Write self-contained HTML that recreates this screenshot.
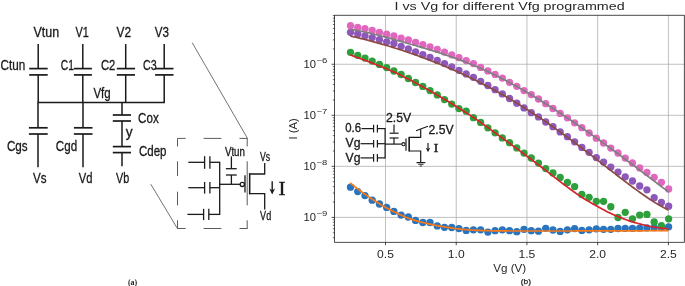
<!DOCTYPE html>
<html><head><meta charset="utf-8"><title>figure</title>
<style>html,body{margin:0;padding:0;background:#fff;}svg{display:block;will-change:transform;}text{white-space:pre;}</style>
</head><body>
<svg width="685" height="286" viewBox="0 0 685 286">
<rect width="685" height="286" fill="#ffffff"/>
<line x1="38.20" y1="44.10" x2="38.20" y2="68.60" stroke="#1a1a1a" stroke-width="1.5" />
<line x1="29.20" y1="68.60" x2="47.70" y2="68.60" stroke="#1a1a1a" stroke-width="1.7" />
<line x1="29.20" y1="74.90" x2="47.70" y2="74.90" stroke="#1a1a1a" stroke-width="1.7" />
<line x1="38.20" y1="74.90" x2="38.20" y2="102.50" stroke="#1a1a1a" stroke-width="1.5" />
<line x1="82.80" y1="44.10" x2="82.80" y2="68.60" stroke="#1a1a1a" stroke-width="1.5" />
<line x1="73.90" y1="68.60" x2="91.90" y2="68.60" stroke="#1a1a1a" stroke-width="1.7" />
<line x1="73.90" y1="74.90" x2="91.90" y2="74.90" stroke="#1a1a1a" stroke-width="1.7" />
<line x1="82.80" y1="74.90" x2="82.80" y2="102.50" stroke="#1a1a1a" stroke-width="1.5" />
<line x1="125.70" y1="44.10" x2="125.70" y2="68.60" stroke="#1a1a1a" stroke-width="1.5" />
<line x1="116.80" y1="68.60" x2="135.00" y2="68.60" stroke="#1a1a1a" stroke-width="1.7" />
<line x1="116.80" y1="74.90" x2="135.00" y2="74.90" stroke="#1a1a1a" stroke-width="1.7" />
<line x1="125.70" y1="74.90" x2="125.70" y2="102.50" stroke="#1a1a1a" stroke-width="1.5" />
<line x1="164.20" y1="44.10" x2="164.20" y2="68.60" stroke="#1a1a1a" stroke-width="1.5" />
<line x1="155.10" y1="68.60" x2="173.50" y2="68.60" stroke="#1a1a1a" stroke-width="1.7" />
<line x1="155.10" y1="74.90" x2="173.50" y2="74.90" stroke="#1a1a1a" stroke-width="1.7" />
<line x1="164.20" y1="74.90" x2="164.20" y2="102.50" stroke="#1a1a1a" stroke-width="1.5" />
<line x1="37.45" y1="102.50" x2="164.95" y2="102.50" stroke="#1a1a1a" stroke-width="1.5" />
<line x1="38.00" y1="102.50" x2="38.00" y2="127.80" stroke="#1a1a1a" stroke-width="1.5" />
<line x1="28.90" y1="127.80" x2="47.70" y2="127.80" stroke="#1a1a1a" stroke-width="1.7" />
<line x1="28.90" y1="134.00" x2="47.70" y2="134.00" stroke="#1a1a1a" stroke-width="1.7" />
<line x1="38.00" y1="134.00" x2="38.00" y2="167.20" stroke="#1a1a1a" stroke-width="1.5" />
<line x1="83.00" y1="102.50" x2="83.00" y2="127.80" stroke="#1a1a1a" stroke-width="1.5" />
<line x1="73.90" y1="127.80" x2="92.50" y2="127.80" stroke="#1a1a1a" stroke-width="1.7" />
<line x1="73.90" y1="134.00" x2="92.50" y2="134.00" stroke="#1a1a1a" stroke-width="1.7" />
<line x1="83.00" y1="134.00" x2="83.00" y2="167.20" stroke="#1a1a1a" stroke-width="1.5" />
<line x1="122.00" y1="102.50" x2="122.00" y2="115.00" stroke="#1a1a1a" stroke-width="1.5" />
<line x1="112.80" y1="115.00" x2="131.00" y2="115.00" stroke="#1a1a1a" stroke-width="1.7" />
<line x1="112.80" y1="121.00" x2="131.00" y2="121.00" stroke="#1a1a1a" stroke-width="1.7" />
<line x1="122.00" y1="121.00" x2="122.00" y2="146.60" stroke="#1a1a1a" stroke-width="1.5" />
<line x1="112.80" y1="146.60" x2="131.00" y2="146.60" stroke="#1a1a1a" stroke-width="1.7" />
<line x1="112.80" y1="152.60" x2="131.00" y2="152.60" stroke="#1a1a1a" stroke-width="1.7" />
<line x1="122.00" y1="152.60" x2="122.00" y2="166.30" stroke="#1a1a1a" stroke-width="1.5" />
<text x="33.40" y="37.40" font-family="Liberation Sans, sans-serif" font-size="14" font-weight="normal" fill="#1a1a1a" textLength="25.70" lengthAdjust="spacingAndGlyphs"  stroke="#1a1a1a" stroke-width="0.3">Vtun</text>
<text x="75.40" y="37.40" font-family="Liberation Sans, sans-serif" font-size="14" font-weight="normal" fill="#1a1a1a" textLength="13.30" lengthAdjust="spacingAndGlyphs"  stroke="#1a1a1a" stroke-width="0.3">V1</text>
<text x="116.50" y="37.40" font-family="Liberation Sans, sans-serif" font-size="14" font-weight="normal" fill="#1a1a1a" textLength="14.50" lengthAdjust="spacingAndGlyphs"  stroke="#1a1a1a" stroke-width="0.3">V2</text>
<text x="154.80" y="37.40" font-family="Liberation Sans, sans-serif" font-size="14" font-weight="normal" fill="#1a1a1a" textLength="14.20" lengthAdjust="spacingAndGlyphs"  stroke="#1a1a1a" stroke-width="0.3">V3</text>
<text x="0.50" y="69.60" font-family="Liberation Sans, sans-serif" font-size="14" font-weight="normal" fill="#1a1a1a" textLength="24.70" lengthAdjust="spacingAndGlyphs"  stroke="#1a1a1a" stroke-width="0.3">Ctun</text>
<text x="60.80" y="69.60" font-family="Liberation Sans, sans-serif" font-size="14" font-weight="normal" fill="#1a1a1a" textLength="13.10" lengthAdjust="spacingAndGlyphs"  stroke="#1a1a1a" stroke-width="0.3">C1</text>
<text x="100.90" y="69.60" font-family="Liberation Sans, sans-serif" font-size="14" font-weight="normal" fill="#1a1a1a" textLength="14.40" lengthAdjust="spacingAndGlyphs"  stroke="#1a1a1a" stroke-width="0.3">C2</text>
<text x="143.00" y="69.60" font-family="Liberation Sans, sans-serif" font-size="14" font-weight="normal" fill="#1a1a1a" textLength="13.70" lengthAdjust="spacingAndGlyphs"  stroke="#1a1a1a" stroke-width="0.3">C3</text>
<text x="93.40" y="98.30" font-family="Liberation Sans, sans-serif" font-size="14" font-weight="normal" fill="#1a1a1a" textLength="17.30" lengthAdjust="spacingAndGlyphs"  stroke="#1a1a1a" stroke-width="0.3">Vfg</text>
<text x="138.10" y="123.20" font-family="Liberation Sans, sans-serif" font-size="14" font-weight="normal" fill="#1a1a1a" textLength="20.70" lengthAdjust="spacingAndGlyphs"  stroke="#1a1a1a" stroke-width="0.3">Cox</text>
<text x="125.70" y="136.60" font-family="Liberation Sans, sans-serif" font-size="14" font-weight="normal" fill="#1a1a1a" textLength="6.90" lengthAdjust="spacingAndGlyphs"  stroke="#1a1a1a" stroke-width="0.3">y</text>
<text x="138.90" y="155.70" font-family="Liberation Sans, sans-serif" font-size="14" font-weight="normal" fill="#1a1a1a" textLength="27.60" lengthAdjust="spacingAndGlyphs"  stroke="#1a1a1a" stroke-width="0.3">Cdep</text>
<text x="6.90" y="151.40" font-family="Liberation Sans, sans-serif" font-size="14" font-weight="normal" fill="#1a1a1a" textLength="20.80" lengthAdjust="spacingAndGlyphs"  stroke="#1a1a1a" stroke-width="0.3">Cgs</text>
<text x="55.80" y="151.40" font-family="Liberation Sans, sans-serif" font-size="14" font-weight="normal" fill="#1a1a1a" textLength="21.30" lengthAdjust="spacingAndGlyphs"  stroke="#1a1a1a" stroke-width="0.3">Cgd</text>
<text x="33.00" y="183.20" font-family="Liberation Sans, sans-serif" font-size="14" font-weight="normal" fill="#1a1a1a" textLength="13.50" lengthAdjust="spacingAndGlyphs"  stroke="#1a1a1a" stroke-width="0.3">Vs</text>
<text x="78.80" y="183.20" font-family="Liberation Sans, sans-serif" font-size="14" font-weight="normal" fill="#1a1a1a" textLength="13.70" lengthAdjust="spacingAndGlyphs"  stroke="#1a1a1a" stroke-width="0.3">Vd</text>
<text x="116.10" y="183.20" font-family="Liberation Sans, sans-serif" font-size="14" font-weight="normal" fill="#1a1a1a" textLength="13.20" lengthAdjust="spacingAndGlyphs"  stroke="#1a1a1a" stroke-width="0.3">Vb</text>
<line x1="192.20" y1="42.70" x2="247.50" y2="138.40" stroke="#5a5a5a" stroke-width="0.85" />
<line x1="150.80" y1="184.20" x2="177.40" y2="228.50" stroke="#5a5a5a" stroke-width="0.85" />
<line x1="177.50" y1="138.40" x2="185.70" y2="138.40" stroke="#484848" stroke-width="0.9" />
<line x1="203.60" y1="138.40" x2="221.40" y2="138.40" stroke="#484848" stroke-width="0.9" />
<line x1="239.50" y1="138.40" x2="247.50" y2="138.40" stroke="#484848" stroke-width="0.9" />
<line x1="177.50" y1="228.50" x2="185.70" y2="228.50" stroke="#484848" stroke-width="0.9" />
<line x1="203.60" y1="228.50" x2="221.40" y2="228.50" stroke="#484848" stroke-width="0.9" />
<line x1="239.50" y1="228.50" x2="247.50" y2="228.50" stroke="#484848" stroke-width="0.9" />
<line x1="177.50" y1="138.40" x2="177.50" y2="146.40" stroke="#484848" stroke-width="0.9" />
<line x1="177.50" y1="161.30" x2="177.50" y2="176.00" stroke="#484848" stroke-width="0.9" />
<line x1="177.50" y1="191.70" x2="177.50" y2="205.30" stroke="#484848" stroke-width="0.9" />
<line x1="177.50" y1="220.30" x2="177.50" y2="228.50" stroke="#484848" stroke-width="0.9" />
<line x1="247.20" y1="138.40" x2="247.20" y2="146.40" stroke="#484848" stroke-width="0.9" />
<line x1="247.20" y1="161.30" x2="247.20" y2="205.30" stroke="#484848" stroke-width="0.9" />
<line x1="247.20" y1="220.30" x2="247.20" y2="228.50" stroke="#484848" stroke-width="0.9" />
<line x1="188.30" y1="162.30" x2="204.60" y2="162.30" stroke="#1a1a1a" stroke-width="1.3" />
<line x1="204.60" y1="156.20" x2="204.60" y2="168.80" stroke="#1a1a1a" stroke-width="1.3" />
<line x1="209.90" y1="156.20" x2="209.90" y2="168.80" stroke="#1a1a1a" stroke-width="1.3" />
<line x1="209.90" y1="162.30" x2="219.70" y2="162.30" stroke="#1a1a1a" stroke-width="1.3" />
<line x1="188.30" y1="187.70" x2="204.60" y2="187.70" stroke="#1a1a1a" stroke-width="1.3" />
<line x1="204.60" y1="182.00" x2="204.60" y2="193.60" stroke="#1a1a1a" stroke-width="1.3" />
<line x1="209.90" y1="182.00" x2="209.90" y2="193.60" stroke="#1a1a1a" stroke-width="1.3" />
<line x1="209.90" y1="187.70" x2="219.70" y2="187.70" stroke="#1a1a1a" stroke-width="1.3" />
<line x1="187.40" y1="214.40" x2="203.60" y2="214.40" stroke="#1a1a1a" stroke-width="1.3" />
<line x1="203.60" y1="208.80" x2="203.60" y2="220.10" stroke="#1a1a1a" stroke-width="1.3" />
<line x1="208.80" y1="208.80" x2="208.80" y2="220.10" stroke="#1a1a1a" stroke-width="1.3" />
<line x1="208.80" y1="214.40" x2="219.70" y2="214.40" stroke="#1a1a1a" stroke-width="1.3" />
<line x1="219.70" y1="161.65" x2="219.70" y2="215.05" stroke="#1a1a1a" stroke-width="1.3" />
<line x1="231.40" y1="156.40" x2="231.40" y2="168.30" stroke="#1a1a1a" stroke-width="1.3" />
<line x1="225.90" y1="168.70" x2="236.70" y2="168.70" stroke="#1a1a1a" stroke-width="1.3" />
<line x1="225.90" y1="175.00" x2="236.70" y2="175.00" stroke="#1a1a1a" stroke-width="1.3" />
<line x1="231.40" y1="175.00" x2="231.40" y2="184.30" stroke="#1a1a1a" stroke-width="1.3" />
<line x1="219.70" y1="184.30" x2="240.20" y2="184.30" stroke="#1a1a1a" stroke-width="1.3" />
<circle cx="242.3" cy="184.4" r="2.1" fill="#fff" stroke="#1a1a1a" stroke-width="1.3"/>
<line x1="245.00" y1="175.20" x2="245.00" y2="192.60" stroke="#1a1a1a" stroke-width="1.3" />
<polyline points="264.7,163.1 264.7,174.0 249.6,174.0 249.6,193.6 264.7,193.6 264.7,209.4" fill="none" stroke="#1a1a1a" stroke-width="1.3" stroke-linejoin="miter"/>
<line x1="249.60" y1="173.35" x2="249.60" y2="194.25" stroke="#1a1a1a" stroke-width="1.3" />
<text x="224.90" y="155.60" font-family="Liberation Sans, sans-serif" font-size="12" font-weight="normal" fill="#1a1a1a" textLength="20.10" lengthAdjust="spacingAndGlyphs"  stroke="#1a1a1a" stroke-width="0.3">Vtun</text>
<text x="259.90" y="160.60" font-family="Liberation Sans, sans-serif" font-size="12" font-weight="normal" fill="#1a1a1a" textLength="10.20" lengthAdjust="spacingAndGlyphs"  stroke="#1a1a1a" stroke-width="0.3">Vs</text>
<text x="260.10" y="219.80" font-family="Liberation Sans, sans-serif" font-size="12" font-weight="normal" fill="#1a1a1a" textLength="11.10" lengthAdjust="spacingAndGlyphs"  stroke="#1a1a1a" stroke-width="0.3">Vd</text>
<line x1="272.20" y1="181.20" x2="272.20" y2="191.50" stroke="#1a1a1a" stroke-width="1.4" />
<path d="M269.3,188.6 L272.2,194.6 L275.1,188.6 L272.2,190.3 Z" fill="#1a1a1a"/>
<text x="278.50" y="194.80" font-family="Liberation Serif, sans-serif" font-size="19.5" font-weight="normal" fill="#1a1a1a" textLength="7.00" lengthAdjust="spacingAndGlyphs" stroke="#1a1a1a" stroke-width="0.35">I</text>
<text x="132.6" y="284.5" font-family="Liberation Serif, serif" font-size="7.9" font-weight="bold" fill="#1a1a1a" text-anchor="middle">(a)</text>
<rect x="334.6" y="15.25" width="349.69999999999993" height="227.05" fill="#fff"/>
<line x1="385.50" y1="15.25" x2="385.50" y2="242.30" stroke="#b0b0b0" stroke-width="0.8" />
<line x1="456.23" y1="15.25" x2="456.23" y2="242.30" stroke="#b0b0b0" stroke-width="0.8" />
<line x1="526.95" y1="15.25" x2="526.95" y2="242.30" stroke="#b0b0b0" stroke-width="0.8" />
<line x1="597.67" y1="15.25" x2="597.67" y2="242.30" stroke="#b0b0b0" stroke-width="0.8" />
<line x1="668.40" y1="15.25" x2="668.40" y2="242.30" stroke="#b0b0b0" stroke-width="0.8" />
<line x1="334.60" y1="217.40" x2="684.30" y2="217.40" stroke="#b0b0b0" stroke-width="0.8" />
<line x1="334.60" y1="166.35" x2="684.30" y2="166.35" stroke="#b0b0b0" stroke-width="0.8" />
<line x1="334.60" y1="115.30" x2="684.30" y2="115.30" stroke="#b0b0b0" stroke-width="0.8" />
<line x1="334.60" y1="64.25" x2="684.30" y2="64.25" stroke="#b0b0b0" stroke-width="0.8" />
<clipPath id="axclip"><rect x="334.6" y="15.25" width="349.69999999999993" height="227.05"/></clipPath>
<g clip-path="url(#axclip)">
<circle cx="350.50" cy="187.20" r="3.65" fill="#2874be"/>
<circle cx="357.73" cy="191.60" r="3.65" fill="#2874be"/>
<circle cx="364.96" cy="195.60" r="3.65" fill="#2874be"/>
<circle cx="372.19" cy="200.20" r="3.65" fill="#2874be"/>
<circle cx="379.42" cy="204.00" r="3.65" fill="#2874be"/>
<circle cx="386.65" cy="207.40" r="3.65" fill="#2874be"/>
<circle cx="393.88" cy="211.40" r="3.65" fill="#2874be"/>
<circle cx="401.11" cy="215.10" r="3.65" fill="#2874be"/>
<circle cx="408.34" cy="217.00" r="3.65" fill="#2874be"/>
<circle cx="415.57" cy="220.40" r="3.65" fill="#2874be"/>
<circle cx="422.80" cy="222.50" r="3.65" fill="#2874be"/>
<circle cx="430.03" cy="222.50" r="3.65" fill="#2874be"/>
<circle cx="437.26" cy="225.90" r="3.65" fill="#2874be"/>
<circle cx="444.49" cy="227.30" r="3.65" fill="#2874be"/>
<circle cx="451.72" cy="227.50" r="3.65" fill="#2874be"/>
<circle cx="458.95" cy="228.60" r="3.65" fill="#2874be"/>
<circle cx="466.18" cy="230.40" r="3.65" fill="#2874be"/>
<circle cx="473.41" cy="229.80" r="3.65" fill="#2874be"/>
<circle cx="480.64" cy="229.80" r="3.65" fill="#2874be"/>
<circle cx="487.87" cy="232.10" r="3.65" fill="#2874be"/>
<circle cx="495.10" cy="230.70" r="3.65" fill="#2874be"/>
<circle cx="502.33" cy="229.80" r="3.65" fill="#2874be"/>
<circle cx="509.56" cy="230.70" r="3.65" fill="#2874be"/>
<circle cx="516.79" cy="231.70" r="3.65" fill="#2874be"/>
<circle cx="524.02" cy="229.30" r="3.65" fill="#2874be"/>
<circle cx="531.25" cy="230.70" r="3.65" fill="#2874be"/>
<circle cx="538.48" cy="231.20" r="3.65" fill="#2874be"/>
<circle cx="545.71" cy="228.30" r="3.65" fill="#2874be"/>
<circle cx="552.94" cy="230.00" r="3.65" fill="#2874be"/>
<circle cx="560.17" cy="231.40" r="3.65" fill="#2874be"/>
<circle cx="567.40" cy="229.80" r="3.65" fill="#2874be"/>
<circle cx="574.63" cy="228.60" r="3.65" fill="#2874be"/>
<circle cx="581.86" cy="230.40" r="3.65" fill="#2874be"/>
<circle cx="589.09" cy="229.80" r="3.65" fill="#2874be"/>
<circle cx="596.32" cy="228.80" r="3.65" fill="#2874be"/>
<circle cx="603.55" cy="229.30" r="3.65" fill="#2874be"/>
<circle cx="610.78" cy="229.30" r="3.65" fill="#2874be"/>
<circle cx="618.01" cy="228.50" r="3.65" fill="#2874be"/>
<circle cx="625.24" cy="228.30" r="3.65" fill="#2874be"/>
<circle cx="632.47" cy="228.30" r="3.65" fill="#2874be"/>
<circle cx="639.70" cy="228.10" r="3.65" fill="#2874be"/>
<circle cx="646.93" cy="227.90" r="3.65" fill="#2874be"/>
<circle cx="654.16" cy="227.70" r="3.65" fill="#2874be"/>
<circle cx="661.39" cy="227.50" r="3.65" fill="#2874be"/>
<circle cx="668.62" cy="226.80" r="3.65" fill="#2874be"/>
<path d="M350.30,183.00 L351.90,184.31 L353.50,185.60 L355.10,186.87 L356.70,188.11 L358.29,189.34 L359.89,190.55 L361.49,191.74 L363.09,192.90 L364.69,194.05 L366.29,195.18 L367.89,196.29 L369.49,197.38 L371.09,198.46 L372.69,199.51 L374.28,200.55 L375.88,201.56 L377.48,202.56 L379.08,203.54 L380.68,204.51 L382.28,205.45 L383.88,206.36 L385.48,207.26 L387.08,208.13 L388.68,208.98 L390.27,209.81 L391.87,210.63 L393.47,211.42 L395.07,212.20 L396.67,212.96 L398.27,213.73 L399.87,214.48 L401.47,215.23 L403.07,215.95 L404.67,216.66 L406.26,217.34 L407.86,217.98 L409.46,218.59 L411.06,219.15 L412.66,219.68 L414.26,220.17 L415.86,220.64 L417.46,221.09 L419.06,221.52 L420.66,221.93 L422.25,222.33 L423.85,222.72 L425.45,223.09 L427.05,223.47 L428.65,223.83 L430.25,224.19 L431.85,224.55 L433.45,224.90 L435.05,225.23 L436.65,225.56 L438.24,225.87 L439.84,226.17 L441.44,226.45 L443.04,226.71 L444.64,226.96 L446.24,227.20 L447.84,227.45 L449.44,227.69 L451.04,227.92 L452.64,228.14 L454.23,228.36 L455.83,228.56 L457.43,228.76 L459.03,228.95 L460.63,229.12 L462.23,229.28 L463.83,229.43 L465.43,229.56 L467.03,229.68 L468.63,229.79 L470.22,229.90 L471.82,230.01 L473.42,230.11 L475.02,230.21 L476.62,230.30 L478.22,230.39 L479.82,230.46 L481.42,230.53 L483.02,230.59 L484.62,230.64 L486.21,230.68 L487.81,230.71 L489.41,230.74 L491.01,230.77 L492.61,230.80 L494.21,230.82 L495.81,230.85 L497.41,230.87 L499.01,230.89 L500.61,230.91 L502.20,230.93 L503.80,230.94 L505.40,230.96 L507.00,230.97 L508.60,230.98 L510.20,230.99 L511.80,231.00 L513.40,231.00 L515.00,231.00 L516.60,231.00 L518.19,231.00 L519.79,231.00 L521.39,231.00 L522.99,231.00 L524.59,231.00 L526.19,231.00 L527.79,231.00 L529.39,231.00 L530.99,231.00 L532.59,231.00 L534.18,231.00 L535.78,231.00 L537.38,231.00 L538.98,231.00 L540.58,230.99 L542.18,230.99 L543.78,230.99 L545.38,230.99 L546.98,230.99 L548.58,230.99 L550.17,230.99 L551.77,230.99 L553.37,230.99 L554.97,230.99 L556.57,230.99 L558.17,230.99 L559.77,230.99 L561.37,230.98 L562.97,230.98 L564.57,230.98 L566.16,230.98 L567.76,230.98 L569.36,230.98 L570.96,230.98 L572.56,230.98 L574.16,230.97 L575.76,230.97 L577.36,230.97 L578.96,230.97 L580.56,230.97 L582.15,230.97 L583.75,230.97 L585.35,230.96 L586.95,230.96 L588.55,230.96 L590.15,230.96 L591.75,230.96 L593.35,230.96 L594.95,230.96 L596.55,230.95 L598.14,230.95 L599.74,230.95 L601.34,230.95 L602.94,230.95 L604.54,230.94 L606.14,230.94 L607.74,230.94 L609.34,230.93 L610.94,230.93 L612.54,230.92 L614.13,230.92 L615.73,230.91 L617.33,230.91 L618.93,230.90 L620.53,230.89 L622.13,230.89 L623.73,230.88 L625.33,230.87 L626.93,230.87 L628.53,230.86 L630.12,230.85 L631.72,230.84 L633.32,230.83 L634.92,230.82 L636.52,230.81 L638.12,230.80 L639.72,230.79 L641.32,230.79 L642.92,230.78 L644.52,230.76 L646.11,230.75 L647.71,230.74 L649.31,230.73 L650.91,230.72 L652.51,230.71 L654.11,230.70 L655.71,230.69 L657.31,230.68 L658.91,230.67 L660.51,230.66 L662.10,230.65 L663.70,230.63 L665.30,230.62 L666.90,230.61 L668.50,230.60" fill="none" stroke="#f77818" stroke-width="1.7" stroke-linejoin="round" stroke-linecap="butt"/>
<circle cx="350.50" cy="52.30" r="3.65" fill="#2da03c"/>
<circle cx="357.73" cy="55.30" r="3.65" fill="#2da03c"/>
<circle cx="364.96" cy="58.10" r="3.65" fill="#2da03c"/>
<circle cx="372.19" cy="61.10" r="3.65" fill="#2da03c"/>
<circle cx="379.42" cy="64.40" r="3.65" fill="#2da03c"/>
<circle cx="386.65" cy="67.60" r="3.65" fill="#2da03c"/>
<circle cx="393.88" cy="71.00" r="3.65" fill="#2da03c"/>
<circle cx="401.11" cy="74.50" r="3.65" fill="#2da03c"/>
<circle cx="408.34" cy="78.50" r="3.65" fill="#2da03c"/>
<circle cx="415.57" cy="82.50" r="3.65" fill="#2da03c"/>
<circle cx="422.80" cy="86.40" r="3.65" fill="#2da03c"/>
<circle cx="430.03" cy="90.60" r="3.65" fill="#2da03c"/>
<circle cx="437.26" cy="94.95" r="3.65" fill="#2da03c"/>
<circle cx="444.49" cy="99.60" r="3.65" fill="#2da03c"/>
<circle cx="451.72" cy="104.10" r="3.65" fill="#2da03c"/>
<circle cx="458.95" cy="108.60" r="3.65" fill="#2da03c"/>
<circle cx="466.18" cy="111.20" r="3.65" fill="#2da03c"/>
<circle cx="473.41" cy="117.65" r="3.65" fill="#2da03c"/>
<circle cx="480.64" cy="122.40" r="3.65" fill="#2da03c"/>
<circle cx="487.87" cy="127.80" r="3.65" fill="#2da03c"/>
<circle cx="495.10" cy="132.80" r="3.65" fill="#2da03c"/>
<circle cx="502.33" cy="137.90" r="3.65" fill="#2da03c"/>
<circle cx="509.56" cy="142.70" r="3.65" fill="#2da03c"/>
<circle cx="516.79" cy="147.90" r="3.65" fill="#2da03c"/>
<circle cx="524.02" cy="153.10" r="3.65" fill="#2da03c"/>
<circle cx="531.25" cy="158.00" r="3.65" fill="#2da03c"/>
<circle cx="538.48" cy="163.10" r="3.65" fill="#2da03c"/>
<circle cx="545.71" cy="168.55" r="3.65" fill="#2da03c"/>
<circle cx="552.94" cy="173.00" r="3.65" fill="#2da03c"/>
<circle cx="560.17" cy="177.50" r="3.65" fill="#2da03c"/>
<circle cx="567.40" cy="182.40" r="3.65" fill="#2da03c"/>
<circle cx="574.63" cy="186.60" r="3.65" fill="#2da03c"/>
<circle cx="581.86" cy="194.40" r="3.65" fill="#2da03c"/>
<circle cx="589.09" cy="197.30" r="3.65" fill="#2da03c"/>
<circle cx="596.32" cy="201.30" r="3.65" fill="#2da03c"/>
<circle cx="603.55" cy="201.30" r="3.65" fill="#2da03c"/>
<circle cx="610.78" cy="206.75" r="3.65" fill="#2da03c"/>
<circle cx="618.01" cy="217.50" r="3.65" fill="#2da03c"/>
<circle cx="625.24" cy="212.30" r="3.65" fill="#2da03c"/>
<circle cx="632.47" cy="218.80" r="3.65" fill="#2da03c"/>
<circle cx="639.70" cy="215.10" r="3.65" fill="#2da03c"/>
<circle cx="646.93" cy="214.40" r="3.65" fill="#2da03c"/>
<circle cx="654.16" cy="221.90" r="3.65" fill="#2da03c"/>
<circle cx="661.39" cy="225.60" r="3.65" fill="#2da03c"/>
<circle cx="668.62" cy="218.80" r="3.65" fill="#2da03c"/>
<path d="M350.30,55.00 L351.90,55.56 L353.50,56.12 L355.10,56.68 L356.70,57.25 L358.29,57.83 L359.89,58.41 L361.49,59.00 L363.09,59.59 L364.69,60.19 L366.29,60.80 L367.89,61.40 L369.49,62.02 L371.09,62.64 L372.69,63.26 L374.28,63.89 L375.88,64.52 L377.48,65.15 L379.08,65.79 L380.68,66.43 L382.28,67.07 L383.88,67.73 L385.48,68.39 L387.08,69.06 L388.68,69.74 L390.27,70.43 L391.87,71.13 L393.47,71.85 L395.07,72.57 L396.67,73.31 L398.27,74.06 L399.87,74.83 L401.47,75.61 L403.07,76.40 L404.67,77.20 L406.26,78.01 L407.86,78.83 L409.46,79.66 L411.06,80.50 L412.66,81.35 L414.26,82.21 L415.86,83.07 L417.46,83.94 L419.06,84.82 L420.66,85.70 L422.25,86.59 L423.85,87.49 L425.45,88.38 L427.05,89.28 L428.65,90.19 L430.25,91.10 L431.85,92.00 L433.45,92.91 L435.05,93.83 L436.65,94.74 L438.24,95.66 L439.84,96.59 L441.44,97.52 L443.04,98.46 L444.64,99.40 L446.24,100.35 L447.84,101.30 L449.44,102.27 L451.04,103.23 L452.64,104.21 L454.23,105.19 L455.83,106.17 L457.43,107.17 L459.03,108.16 L460.63,109.17 L462.23,110.18 L463.83,111.20 L465.43,112.23 L467.03,113.26 L468.63,114.30 L470.22,115.35 L471.82,116.41 L473.42,117.47 L475.02,118.56 L476.62,119.65 L478.22,120.75 L479.82,121.86 L481.42,122.98 L483.02,124.10 L484.62,125.24 L486.21,126.38 L487.81,127.52 L489.41,128.67 L491.01,129.83 L492.61,130.98 L494.21,132.14 L495.81,133.31 L497.41,134.47 L499.01,135.64 L500.61,136.80 L502.20,137.97 L503.80,139.13 L505.40,140.29 L507.00,141.46 L508.60,142.62 L510.20,143.79 L511.80,144.97 L513.40,146.14 L515.00,147.32 L516.60,148.50 L518.19,149.69 L519.79,150.87 L521.39,152.06 L522.99,153.25 L524.59,154.45 L526.19,155.64 L527.79,156.84 L529.39,158.04 L530.99,159.24 L532.59,160.45 L534.18,161.65 L535.78,162.86 L537.38,164.07 L538.98,165.28 L540.58,166.49 L542.18,167.71 L543.78,168.94 L545.38,170.18 L546.98,171.42 L548.58,172.67 L550.17,173.92 L551.77,175.17 L553.37,176.42 L554.97,177.66 L556.57,178.90 L558.17,180.14 L559.77,181.36 L561.37,182.58 L562.97,183.79 L564.57,184.98 L566.16,186.16 L567.76,187.34 L569.36,188.52 L570.96,189.70 L572.56,190.86 L574.16,192.02 L575.76,193.15 L577.36,194.26 L578.96,195.35 L580.56,196.41 L582.15,197.44 L583.75,198.45 L585.35,199.44 L586.95,200.42 L588.55,201.38 L590.15,202.32 L591.75,203.25 L593.35,204.17 L594.95,205.08 L596.55,205.97 L598.14,206.86 L599.74,207.74 L601.34,208.61 L602.94,209.48 L604.54,210.33 L606.14,211.16 L607.74,211.98 L609.34,212.76 L610.94,213.52 L612.54,214.24 L614.13,214.95 L615.73,215.64 L617.33,216.32 L618.93,216.99 L620.53,217.64 L622.13,218.28 L623.73,218.89 L625.33,219.49 L626.93,220.06 L628.53,220.61 L630.12,221.13 L631.72,221.62 L633.32,222.11 L634.92,222.58 L636.52,223.05 L638.12,223.50 L639.72,223.94 L641.32,224.37 L642.92,224.78 L644.52,225.17 L646.11,225.54 L647.71,225.89 L649.31,226.21 L650.91,226.51 L652.51,226.78 L654.11,227.05 L655.71,227.30 L657.31,227.54 L658.91,227.76 L660.51,227.98 L662.10,228.18 L663.70,228.36 L665.30,228.53 L666.90,228.67 L668.50,228.80" fill="none" stroke="#d7232b" stroke-width="1.7" stroke-linejoin="round" stroke-linecap="butt"/>
<circle cx="350.50" cy="32.30" r="3.65" fill="#8d58b9"/>
<circle cx="357.73" cy="33.90" r="3.65" fill="#8d58b9"/>
<circle cx="364.96" cy="35.80" r="3.65" fill="#8d58b9"/>
<circle cx="372.19" cy="37.60" r="3.65" fill="#8d58b9"/>
<circle cx="379.42" cy="39.70" r="3.65" fill="#8d58b9"/>
<circle cx="386.65" cy="41.80" r="3.65" fill="#8d58b9"/>
<circle cx="393.88" cy="43.50" r="3.65" fill="#8d58b9"/>
<circle cx="401.11" cy="46.30" r="3.65" fill="#8d58b9"/>
<circle cx="408.34" cy="48.90" r="3.65" fill="#8d58b9"/>
<circle cx="415.57" cy="51.80" r="3.65" fill="#8d58b9"/>
<circle cx="422.80" cy="54.70" r="3.65" fill="#8d58b9"/>
<circle cx="430.03" cy="57.50" r="3.65" fill="#8d58b9"/>
<circle cx="437.26" cy="60.40" r="3.65" fill="#8d58b9"/>
<circle cx="444.49" cy="63.60" r="3.65" fill="#8d58b9"/>
<circle cx="451.72" cy="66.80" r="3.65" fill="#8d58b9"/>
<circle cx="458.95" cy="70.30" r="3.65" fill="#8d58b9"/>
<circle cx="466.18" cy="73.90" r="3.65" fill="#8d58b9"/>
<circle cx="473.41" cy="77.30" r="3.65" fill="#8d58b9"/>
<circle cx="480.64" cy="81.30" r="3.65" fill="#8d58b9"/>
<circle cx="487.87" cy="85.50" r="3.65" fill="#8d58b9"/>
<circle cx="495.10" cy="89.70" r="3.65" fill="#8d58b9"/>
<circle cx="502.33" cy="93.90" r="3.65" fill="#8d58b9"/>
<circle cx="509.56" cy="98.50" r="3.65" fill="#8d58b9"/>
<circle cx="516.79" cy="103.20" r="3.65" fill="#8d58b9"/>
<circle cx="524.02" cy="107.90" r="3.65" fill="#8d58b9"/>
<circle cx="531.25" cy="112.70" r="3.65" fill="#8d58b9"/>
<circle cx="538.48" cy="116.90" r="3.65" fill="#8d58b9"/>
<circle cx="545.71" cy="122.00" r="3.65" fill="#8d58b9"/>
<circle cx="552.94" cy="126.70" r="3.65" fill="#8d58b9"/>
<circle cx="560.17" cy="131.90" r="3.65" fill="#8d58b9"/>
<circle cx="567.40" cy="136.70" r="3.65" fill="#8d58b9"/>
<circle cx="574.63" cy="141.85" r="3.65" fill="#8d58b9"/>
<circle cx="581.86" cy="147.40" r="3.65" fill="#8d58b9"/>
<circle cx="589.09" cy="152.30" r="3.65" fill="#8d58b9"/>
<circle cx="596.32" cy="157.60" r="3.65" fill="#8d58b9"/>
<circle cx="603.55" cy="162.10" r="3.65" fill="#8d58b9"/>
<circle cx="610.78" cy="167.10" r="3.65" fill="#8d58b9"/>
<circle cx="618.01" cy="172.10" r="3.65" fill="#8d58b9"/>
<circle cx="625.24" cy="176.80" r="3.65" fill="#8d58b9"/>
<circle cx="632.47" cy="181.00" r="3.65" fill="#8d58b9"/>
<circle cx="639.70" cy="186.00" r="3.65" fill="#8d58b9"/>
<circle cx="646.93" cy="189.80" r="3.65" fill="#8d58b9"/>
<circle cx="654.16" cy="197.70" r="3.65" fill="#8d58b9"/>
<circle cx="661.39" cy="202.50" r="3.65" fill="#8d58b9"/>
<circle cx="668.62" cy="206.20" r="3.65" fill="#8d58b9"/>
<path d="M350.30,36.07 L352.11,36.46 L353.92,36.86 L355.72,37.27 L357.53,37.69 L359.34,38.12 L361.15,38.56 L362.96,39.00 L364.77,39.46 L366.57,39.92 L368.38,40.39 L370.19,40.86 L372.00,41.34 L373.81,41.83 L375.62,42.33 L377.42,42.83 L379.23,43.34 L381.04,43.86 L382.85,44.38 L384.66,44.91 L386.47,45.45 L388.27,45.99 L390.08,46.54 L391.89,47.10 L393.70,47.66 L395.51,48.23 L397.31,48.80 L399.12,49.38 L400.93,49.97 L402.74,50.56 L404.55,51.16 L406.36,51.77 L408.16,52.38 L409.97,53.00 L411.78,53.63 L413.59,54.26 L415.40,54.90 L417.21,55.54 L419.01,56.20 L420.82,56.85 L422.63,57.52 L424.44,58.19 L426.25,58.87 L428.05,59.56 L429.86,60.25 L431.67,60.95 L433.48,61.66 L435.29,62.38 L437.10,63.10 L438.90,63.83 L440.71,64.57 L442.52,65.31 L444.33,66.07 L446.14,66.83 L447.95,67.60 L449.75,68.37 L451.56,69.16 L453.37,69.95 L455.18,70.75 L456.99,71.56 L458.80,72.37 L460.60,73.20 L462.41,74.03 L464.22,74.87 L466.03,75.72 L467.84,76.58 L469.64,77.44 L471.45,78.32 L473.26,79.20 L475.07,80.09 L476.88,80.99 L478.69,81.90 L480.49,82.82 L482.30,83.75 L484.11,84.68 L485.92,85.63 L487.73,86.58 L489.54,87.54 L491.34,88.51 L493.15,89.49 L494.96,90.48 L496.77,91.47 L498.58,92.48 L500.38,93.50 L502.19,94.52 L504.00,95.55 L505.81,96.59 L507.62,97.65 L509.43,98.71 L511.23,99.77 L513.04,100.85 L514.85,101.94 L516.66,103.03 L518.47,104.14 L520.28,105.25 L522.08,106.37 L523.89,107.51 L525.70,108.65 L527.51,109.79 L529.32,110.95 L531.12,112.12 L532.93,113.29 L534.74,114.48 L536.55,115.67 L538.36,116.87 L540.17,118.08 L541.97,119.30 L543.78,120.52 L545.59,121.76 L547.40,123.00 L549.21,124.25 L551.02,125.51 L552.82,126.77 L554.63,128.05 L556.44,129.33 L558.25,130.62 L560.06,131.91 L561.87,133.22 L563.67,134.53 L565.48,135.85 L567.29,137.17 L569.10,138.50 L570.91,139.84 L572.71,141.18 L574.52,142.53 L576.33,143.89 L578.14,145.25 L579.95,146.62 L581.76,147.99 L583.56,149.37 L585.37,150.75 L587.18,152.13 L588.99,153.52 L590.80,154.92 L592.61,156.31 L594.41,157.71 L596.22,159.11 L598.03,160.52 L599.84,161.92 L601.65,163.33 L603.46,164.74 L605.26,166.15 L607.07,167.56 L608.88,168.97 L610.69,170.38 L612.50,171.78 L614.30,173.19 L616.11,174.59 L617.92,175.99 L619.73,177.38 L621.54,178.77 L623.35,180.15 L625.15,181.53 L626.96,182.90 L628.77,184.27 L630.58,185.62 L632.39,186.96 L634.20,188.30 L636.00,189.62 L637.81,190.93 L639.62,192.23 L641.43,193.51 L643.24,194.78 L645.04,196.03 L646.85,197.26 L648.66,198.48 L650.47,199.67 L652.28,200.84 L654.09,201.99 L655.89,203.11 L657.70,204.20 L659.51,205.27 L661.32,206.31 L663.13,207.32 L664.94,208.29 L666.74,209.23 L668.55,210.14" fill="none" stroke="#8c4a42" stroke-width="1.7" stroke-linejoin="round" stroke-linecap="butt"/>
<circle cx="350.50" cy="25.70" r="3.65" fill="#e066be"/>
<circle cx="357.73" cy="27.40" r="3.65" fill="#e066be"/>
<circle cx="364.96" cy="28.60" r="3.65" fill="#e066be"/>
<circle cx="372.19" cy="30.50" r="3.65" fill="#e066be"/>
<circle cx="379.42" cy="32.30" r="3.65" fill="#e066be"/>
<circle cx="386.65" cy="34.20" r="3.65" fill="#e066be"/>
<circle cx="393.88" cy="36.00" r="3.65" fill="#e066be"/>
<circle cx="401.11" cy="38.15" r="3.65" fill="#e066be"/>
<circle cx="408.34" cy="40.00" r="3.65" fill="#e066be"/>
<circle cx="415.57" cy="42.40" r="3.65" fill="#e066be"/>
<circle cx="422.80" cy="44.70" r="3.65" fill="#e066be"/>
<circle cx="430.03" cy="47.00" r="3.65" fill="#e066be"/>
<circle cx="437.26" cy="49.40" r="3.65" fill="#e066be"/>
<circle cx="444.49" cy="52.05" r="3.65" fill="#e066be"/>
<circle cx="451.72" cy="54.85" r="3.65" fill="#e066be"/>
<circle cx="458.95" cy="57.70" r="3.65" fill="#e066be"/>
<circle cx="466.18" cy="60.60" r="3.65" fill="#e066be"/>
<circle cx="473.41" cy="63.60" r="3.65" fill="#e066be"/>
<circle cx="480.64" cy="67.40" r="3.65" fill="#e066be"/>
<circle cx="487.87" cy="70.90" r="3.65" fill="#e066be"/>
<circle cx="495.10" cy="74.40" r="3.65" fill="#e066be"/>
<circle cx="502.33" cy="78.10" r="3.65" fill="#e066be"/>
<circle cx="509.56" cy="82.30" r="3.65" fill="#e066be"/>
<circle cx="516.79" cy="86.30" r="3.65" fill="#e066be"/>
<circle cx="524.02" cy="90.55" r="3.65" fill="#e066be"/>
<circle cx="531.25" cy="94.60" r="3.65" fill="#e066be"/>
<circle cx="538.48" cy="99.00" r="3.65" fill="#e066be"/>
<circle cx="545.71" cy="103.70" r="3.65" fill="#e066be"/>
<circle cx="552.94" cy="108.50" r="3.65" fill="#e066be"/>
<circle cx="560.17" cy="113.40" r="3.65" fill="#e066be"/>
<circle cx="567.40" cy="117.85" r="3.65" fill="#e066be"/>
<circle cx="574.63" cy="122.80" r="3.65" fill="#e066be"/>
<circle cx="581.86" cy="127.70" r="3.65" fill="#e066be"/>
<circle cx="589.09" cy="133.00" r="3.65" fill="#e066be"/>
<circle cx="596.32" cy="138.15" r="3.65" fill="#e066be"/>
<circle cx="603.55" cy="143.00" r="3.65" fill="#e066be"/>
<circle cx="610.78" cy="148.10" r="3.65" fill="#e066be"/>
<circle cx="618.01" cy="153.00" r="3.65" fill="#e066be"/>
<circle cx="625.24" cy="158.10" r="3.65" fill="#e066be"/>
<circle cx="632.47" cy="163.00" r="3.65" fill="#e066be"/>
<circle cx="639.70" cy="167.90" r="3.65" fill="#e066be"/>
<circle cx="646.93" cy="172.40" r="3.65" fill="#e066be"/>
<circle cx="654.16" cy="177.30" r="3.65" fill="#e066be"/>
<circle cx="661.39" cy="182.30" r="3.65" fill="#e066be"/>
<circle cx="668.62" cy="189.00" r="3.65" fill="#e066be"/>
<path d="M350.30,29.47 L352.11,29.69 L353.92,29.95 L355.72,30.23 L357.53,30.54 L359.34,30.87 L361.15,31.22 L362.96,31.59 L364.77,31.97 L366.57,32.37 L368.38,32.79 L370.19,33.21 L372.00,33.65 L373.81,34.10 L375.62,34.55 L377.42,35.02 L379.23,35.48 L381.04,35.96 L382.85,36.44 L384.66,36.92 L386.47,37.41 L388.27,37.90 L390.08,38.40 L391.89,38.90 L393.70,39.40 L395.51,39.90 L397.31,40.40 L399.12,40.91 L400.93,41.41 L402.74,41.92 L404.55,42.43 L406.36,42.95 L408.16,43.46 L409.97,43.98 L411.78,44.50 L413.59,45.02 L415.40,45.54 L417.21,46.07 L419.01,46.60 L420.82,47.13 L422.63,47.66 L424.44,48.20 L426.25,48.75 L428.05,49.29 L429.86,49.84 L431.67,50.40 L433.48,50.96 L435.29,51.53 L437.10,52.11 L438.90,52.68 L440.71,53.27 L442.52,53.86 L444.33,54.46 L446.14,55.07 L447.95,55.69 L449.75,56.31 L451.56,56.94 L453.37,57.58 L455.18,58.23 L456.99,58.88 L458.80,59.55 L460.60,60.23 L462.41,60.91 L464.22,61.61 L466.03,62.31 L467.84,63.03 L469.64,63.75 L471.45,64.49 L473.26,65.24 L475.07,65.99 L476.88,66.76 L478.69,67.54 L480.49,68.33 L482.30,69.13 L484.11,69.94 L485.92,70.77 L487.73,71.60 L489.54,72.44 L491.34,73.30 L493.15,74.17 L494.96,75.05 L496.77,75.94 L498.58,76.84 L500.38,77.75 L502.19,78.67 L504.00,79.60 L505.81,80.55 L507.62,81.50 L509.43,82.46 L511.23,83.44 L513.04,84.42 L514.85,85.42 L516.66,86.42 L518.47,87.44 L520.28,88.46 L522.08,89.49 L523.89,90.54 L525.70,91.59 L527.51,92.65 L529.32,93.72 L531.12,94.79 L532.93,95.88 L534.74,96.97 L536.55,98.07 L538.36,99.18 L540.17,100.30 L541.97,101.43 L543.78,102.56 L545.59,103.70 L547.40,104.84 L549.21,106.00 L551.02,107.15 L552.82,108.32 L554.63,109.49 L556.44,110.67 L558.25,111.85 L560.06,113.04 L561.87,114.24 L563.67,115.44 L565.48,116.65 L567.29,117.86 L569.10,119.08 L570.91,120.30 L572.71,121.53 L574.52,122.76 L576.33,124.00 L578.14,125.24 L579.95,126.49 L581.76,127.74 L583.56,128.99 L585.37,130.25 L587.18,131.52 L588.99,132.79 L590.80,134.06 L592.61,135.34 L594.41,136.63 L596.22,137.91 L598.03,139.21 L599.84,140.50 L601.65,141.80 L603.46,143.11 L605.26,144.42 L607.07,145.73 L608.88,147.05 L610.69,148.37 L612.50,149.70 L614.30,151.03 L616.11,152.36 L617.92,153.70 L619.73,155.04 L621.54,156.39 L623.35,157.74 L625.15,159.09 L626.96,160.45 L628.77,161.81 L630.58,163.17 L632.39,164.54 L634.20,165.90 L636.00,167.28 L637.81,168.65 L639.62,170.02 L641.43,171.40 L643.24,172.78 L645.04,174.16 L646.85,175.53 L648.66,176.91 L650.47,178.29 L652.28,179.66 L654.09,181.03 L655.89,182.40 L657.70,183.76 L659.51,185.12 L661.32,186.47 L663.13,187.82 L664.94,189.15 L666.74,190.48 L668.55,191.80" fill="none" stroke="#7f7f7f" stroke-width="1.7" stroke-linejoin="round" stroke-linecap="butt"/>
</g>
<line x1="361.50" y1="128.60" x2="373.60" y2="128.60" stroke="#1a1a1a" stroke-width="1.2" />
<line x1="373.60" y1="124.80" x2="373.60" y2="132.40" stroke="#1a1a1a" stroke-width="1.2" />
<line x1="377.40" y1="124.80" x2="377.40" y2="132.40" stroke="#1a1a1a" stroke-width="1.2" />
<line x1="377.40" y1="128.60" x2="385.10" y2="128.60" stroke="#1a1a1a" stroke-width="1.2" />
<line x1="360.50" y1="143.70" x2="373.60" y2="143.70" stroke="#1a1a1a" stroke-width="1.2" />
<line x1="373.60" y1="139.90" x2="373.60" y2="147.50" stroke="#1a1a1a" stroke-width="1.2" />
<line x1="377.40" y1="139.90" x2="377.40" y2="147.50" stroke="#1a1a1a" stroke-width="1.2" />
<line x1="377.40" y1="143.70" x2="385.10" y2="143.70" stroke="#1a1a1a" stroke-width="1.2" />
<line x1="360.50" y1="157.90" x2="373.60" y2="157.90" stroke="#1a1a1a" stroke-width="1.2" />
<line x1="373.60" y1="154.10" x2="373.60" y2="161.70" stroke="#1a1a1a" stroke-width="1.2" />
<line x1="377.40" y1="154.10" x2="377.40" y2="161.70" stroke="#1a1a1a" stroke-width="1.2" />
<line x1="377.40" y1="157.90" x2="385.10" y2="157.90" stroke="#1a1a1a" stroke-width="1.2" />
<line x1="385.10" y1="128.10" x2="385.10" y2="158.40" stroke="#1a1a1a" stroke-width="1.2" />
<line x1="385.10" y1="144.10" x2="401.90" y2="144.10" stroke="#1a1a1a" stroke-width="1.2" />
<line x1="394.00" y1="124.60" x2="394.00" y2="132.80" stroke="#1a1a1a" stroke-width="1.2" />
<line x1="389.60" y1="133.20" x2="398.60" y2="133.20" stroke="#1a1a1a" stroke-width="1.2" />
<line x1="389.60" y1="138.00" x2="398.60" y2="138.00" stroke="#1a1a1a" stroke-width="1.2" />
<line x1="394.00" y1="138.00" x2="394.00" y2="144.10" stroke="#1a1a1a" stroke-width="1.2" />
<circle cx="403.5" cy="144.2" r="1.6" fill="#fff" stroke="#1a1a1a" stroke-width="1.1"/>
<line x1="406.00" y1="138.60" x2="406.00" y2="150.80" stroke="#1a1a1a" stroke-width="1.2" />
<polyline points="420.7,129.3 420.7,137.4 409.2,137.4 409.2,151.0 420.7,151.0 420.7,162.3" fill="none" stroke="#1a1a1a" stroke-width="1.2"/>
<line x1="409.20" y1="136.90" x2="409.20" y2="151.50" stroke="#1a1a1a" stroke-width="1.2" />
<line x1="416.00" y1="130.70" x2="428.00" y2="126.30" stroke="#1a1a1a" stroke-width="1.2" />
<line x1="416.50" y1="162.60" x2="425.30" y2="162.60" stroke="#1a1a1a" stroke-width="1.2" />
<line x1="418.20" y1="164.30" x2="423.60" y2="164.30" stroke="#1a1a1a" stroke-width="0.9" />
<line x1="419.80" y1="166.00" x2="422.00" y2="166.00" stroke="#1a1a1a" stroke-width="0.9" />
<line x1="428.00" y1="142.90" x2="428.00" y2="150.00" stroke="#1a1a1a" stroke-width="1.15" />
<path d="M425.7,147.6 L428,152.3 L430.3,147.6 L428,148.9 Z" fill="#1a1a1a"/>
<text x="433.40" y="151.80" font-family="Liberation Serif, sans-serif" font-size="12.5" font-weight="normal" fill="#1a1a1a" textLength="5.00" lengthAdjust="spacingAndGlyphs" stroke="#1a1a1a" stroke-width="0.3">I</text>
<text x="345.20" y="132.10" font-family="Liberation Sans, sans-serif" font-size="12" font-weight="normal" fill="#1a1a1a" textLength="15.80" lengthAdjust="spacingAndGlyphs"  stroke="#1a1a1a" stroke-width="0.3">0.6</text>
<text x="345.60" y="147.20" font-family="Liberation Sans, sans-serif" font-size="12" font-weight="normal" fill="#1a1a1a" textLength="14.90" lengthAdjust="spacingAndGlyphs"  stroke="#1a1a1a" stroke-width="0.3">Vg</text>
<text x="345.60" y="161.50" font-family="Liberation Sans, sans-serif" font-size="12" font-weight="normal" fill="#1a1a1a" textLength="14.90" lengthAdjust="spacingAndGlyphs"  stroke="#1a1a1a" stroke-width="0.3">Vg</text>
<text x="386.00" y="121.90" font-family="Liberation Sans, sans-serif" font-size="12" font-weight="normal" fill="#1a1a1a" textLength="25.20" lengthAdjust="spacingAndGlyphs"  stroke="#1a1a1a" stroke-width="0.3">2.5V</text>
<text x="428.50" y="133.60" font-family="Liberation Sans, sans-serif" font-size="12" font-weight="normal" fill="#1a1a1a" textLength="25.00" lengthAdjust="spacingAndGlyphs"  stroke="#1a1a1a" stroke-width="0.3">2.5V</text>
<rect x="334.6" y="15.25" width="349.69999999999993" height="227.05" fill="none" stroke="#1e1e1e" stroke-width="0.8"/>
<line x1="385.50" y1="242.30" x2="385.50" y2="245.20" stroke="#1e1e1e" stroke-width="0.8" />
<line x1="456.23" y1="242.30" x2="456.23" y2="245.20" stroke="#1e1e1e" stroke-width="0.8" />
<line x1="526.95" y1="242.30" x2="526.95" y2="245.20" stroke="#1e1e1e" stroke-width="0.8" />
<line x1="597.67" y1="242.30" x2="597.67" y2="245.20" stroke="#1e1e1e" stroke-width="0.8" />
<line x1="668.40" y1="242.30" x2="668.40" y2="245.20" stroke="#1e1e1e" stroke-width="0.8" />
<line x1="331.60" y1="217.40" x2="334.60" y2="217.40" stroke="#1e1e1e" stroke-width="0.8" />
<line x1="331.60" y1="166.35" x2="334.60" y2="166.35" stroke="#1e1e1e" stroke-width="0.8" />
<line x1="331.60" y1="115.30" x2="334.60" y2="115.30" stroke="#1e1e1e" stroke-width="0.8" />
<line x1="331.60" y1="64.25" x2="334.60" y2="64.25" stroke="#1e1e1e" stroke-width="0.8" />
<line x1="332.80" y1="237.71" x2="334.60" y2="237.71" stroke="#1e1e1e" stroke-width="0.65" />
<line x1="332.80" y1="232.77" x2="334.60" y2="232.77" stroke="#1e1e1e" stroke-width="0.65" />
<line x1="332.80" y1="228.73" x2="334.60" y2="228.73" stroke="#1e1e1e" stroke-width="0.65" />
<line x1="332.80" y1="225.31" x2="334.60" y2="225.31" stroke="#1e1e1e" stroke-width="0.65" />
<line x1="332.80" y1="222.35" x2="334.60" y2="222.35" stroke="#1e1e1e" stroke-width="0.65" />
<line x1="332.80" y1="219.74" x2="334.60" y2="219.74" stroke="#1e1e1e" stroke-width="0.65" />
<line x1="332.80" y1="202.03" x2="334.60" y2="202.03" stroke="#1e1e1e" stroke-width="0.65" />
<line x1="332.80" y1="193.04" x2="334.60" y2="193.04" stroke="#1e1e1e" stroke-width="0.65" />
<line x1="332.80" y1="186.66" x2="334.60" y2="186.66" stroke="#1e1e1e" stroke-width="0.65" />
<line x1="332.80" y1="181.72" x2="334.60" y2="181.72" stroke="#1e1e1e" stroke-width="0.65" />
<line x1="332.80" y1="177.68" x2="334.60" y2="177.68" stroke="#1e1e1e" stroke-width="0.65" />
<line x1="332.80" y1="174.26" x2="334.60" y2="174.26" stroke="#1e1e1e" stroke-width="0.65" />
<line x1="332.80" y1="171.30" x2="334.60" y2="171.30" stroke="#1e1e1e" stroke-width="0.65" />
<line x1="332.80" y1="168.69" x2="334.60" y2="168.69" stroke="#1e1e1e" stroke-width="0.65" />
<line x1="332.80" y1="150.98" x2="334.60" y2="150.98" stroke="#1e1e1e" stroke-width="0.65" />
<line x1="332.80" y1="141.99" x2="334.60" y2="141.99" stroke="#1e1e1e" stroke-width="0.65" />
<line x1="332.80" y1="135.61" x2="334.60" y2="135.61" stroke="#1e1e1e" stroke-width="0.65" />
<line x1="332.80" y1="130.67" x2="334.60" y2="130.67" stroke="#1e1e1e" stroke-width="0.65" />
<line x1="332.80" y1="126.63" x2="334.60" y2="126.63" stroke="#1e1e1e" stroke-width="0.65" />
<line x1="332.80" y1="123.21" x2="334.60" y2="123.21" stroke="#1e1e1e" stroke-width="0.65" />
<line x1="332.80" y1="120.25" x2="334.60" y2="120.25" stroke="#1e1e1e" stroke-width="0.65" />
<line x1="332.80" y1="117.64" x2="334.60" y2="117.64" stroke="#1e1e1e" stroke-width="0.65" />
<line x1="332.80" y1="99.93" x2="334.60" y2="99.93" stroke="#1e1e1e" stroke-width="0.65" />
<line x1="332.80" y1="90.94" x2="334.60" y2="90.94" stroke="#1e1e1e" stroke-width="0.65" />
<line x1="332.80" y1="84.56" x2="334.60" y2="84.56" stroke="#1e1e1e" stroke-width="0.65" />
<line x1="332.80" y1="79.62" x2="334.60" y2="79.62" stroke="#1e1e1e" stroke-width="0.65" />
<line x1="332.80" y1="75.58" x2="334.60" y2="75.58" stroke="#1e1e1e" stroke-width="0.65" />
<line x1="332.80" y1="72.16" x2="334.60" y2="72.16" stroke="#1e1e1e" stroke-width="0.65" />
<line x1="332.80" y1="69.20" x2="334.60" y2="69.20" stroke="#1e1e1e" stroke-width="0.65" />
<line x1="332.80" y1="66.59" x2="334.60" y2="66.59" stroke="#1e1e1e" stroke-width="0.65" />
<line x1="332.80" y1="48.88" x2="334.60" y2="48.88" stroke="#1e1e1e" stroke-width="0.65" />
<line x1="332.80" y1="39.89" x2="334.60" y2="39.89" stroke="#1e1e1e" stroke-width="0.65" />
<line x1="332.80" y1="33.51" x2="334.60" y2="33.51" stroke="#1e1e1e" stroke-width="0.65" />
<line x1="332.80" y1="28.57" x2="334.60" y2="28.57" stroke="#1e1e1e" stroke-width="0.65" />
<line x1="332.80" y1="24.53" x2="334.60" y2="24.53" stroke="#1e1e1e" stroke-width="0.65" />
<line x1="332.80" y1="21.11" x2="334.60" y2="21.11" stroke="#1e1e1e" stroke-width="0.65" />
<line x1="332.80" y1="18.15" x2="334.60" y2="18.15" stroke="#1e1e1e" stroke-width="0.65" />
<line x1="332.80" y1="15.54" x2="334.60" y2="15.54" stroke="#1e1e1e" stroke-width="0.65" />
<text x="377.10" y="257.90" font-family="Liberation Sans, sans-serif" font-size="10.2" font-weight="normal" fill="#262626" textLength="16.80" lengthAdjust="spacingAndGlyphs" >0.5</text>
<text x="447.83" y="257.90" font-family="Liberation Sans, sans-serif" font-size="10.2" font-weight="normal" fill="#262626" textLength="16.80" lengthAdjust="spacingAndGlyphs" >1.0</text>
<text x="518.55" y="257.90" font-family="Liberation Sans, sans-serif" font-size="10.2" font-weight="normal" fill="#262626" textLength="16.80" lengthAdjust="spacingAndGlyphs" >1.5</text>
<text x="589.27" y="257.90" font-family="Liberation Sans, sans-serif" font-size="10.2" font-weight="normal" fill="#262626" textLength="16.80" lengthAdjust="spacingAndGlyphs" >2.0</text>
<text x="660.00" y="257.90" font-family="Liberation Sans, sans-serif" font-size="10.2" font-weight="normal" fill="#262626" textLength="16.80" lengthAdjust="spacingAndGlyphs" >2.5</text>
<text x="303.40" y="221.10" font-family="Liberation Sans, sans-serif" font-size="10.2" font-weight="normal" fill="#262626" textLength="12.50" lengthAdjust="spacingAndGlyphs" >10</text>
<text x="316.50" y="216.40" font-family="Liberation Sans, sans-serif" font-size="7.2" font-weight="normal" fill="#262626" textLength="10.80" lengthAdjust="spacingAndGlyphs" >&#8722;9</text>
<text x="303.40" y="170.05" font-family="Liberation Sans, sans-serif" font-size="10.2" font-weight="normal" fill="#262626" textLength="12.50" lengthAdjust="spacingAndGlyphs" >10</text>
<text x="316.50" y="165.35" font-family="Liberation Sans, sans-serif" font-size="7.2" font-weight="normal" fill="#262626" textLength="10.80" lengthAdjust="spacingAndGlyphs" >&#8722;8</text>
<text x="303.40" y="119.00" font-family="Liberation Sans, sans-serif" font-size="10.2" font-weight="normal" fill="#262626" textLength="12.50" lengthAdjust="spacingAndGlyphs" >10</text>
<text x="316.50" y="114.30" font-family="Liberation Sans, sans-serif" font-size="7.2" font-weight="normal" fill="#262626" textLength="10.80" lengthAdjust="spacingAndGlyphs" >&#8722;7</text>
<text x="303.40" y="67.95" font-family="Liberation Sans, sans-serif" font-size="10.2" font-weight="normal" fill="#262626" textLength="12.50" lengthAdjust="spacingAndGlyphs" >10</text>
<text x="316.50" y="63.25" font-family="Liberation Sans, sans-serif" font-size="7.2" font-weight="normal" fill="#262626" textLength="10.80" lengthAdjust="spacingAndGlyphs" >&#8722;6</text>
<text x="493.20" y="271.70" font-family="Liberation Sans, sans-serif" font-size="10.4" font-weight="normal" fill="#262626" textLength="33.00" lengthAdjust="spacingAndGlyphs" >Vg (V)</text>
<g transform="translate(297.0,139.4) rotate(-90)">
<text x="0.00" y="0.00" font-family="Liberation Sans, sans-serif" font-size="10.4" font-weight="normal" fill="#262626" textLength="21.00" lengthAdjust="spacingAndGlyphs" >I (A)</text>
</g>
<text x="394.50" y="9.70" font-family="Liberation Sans, sans-serif" font-size="11.6" font-weight="normal" fill="#262626" textLength="230.10" lengthAdjust="spacingAndGlyphs" >I vs Vg for different Vfg programmed</text>
<text x="525.9" y="284.4" font-family="Liberation Sans, sans-serif" font-size="8.1" fill="#1a1a1a" stroke="#1a1a1a" stroke-width="0.25" text-anchor="middle" textLength="10.2" lengthAdjust="spacingAndGlyphs">(b)</text>
</svg>
</body></html>
